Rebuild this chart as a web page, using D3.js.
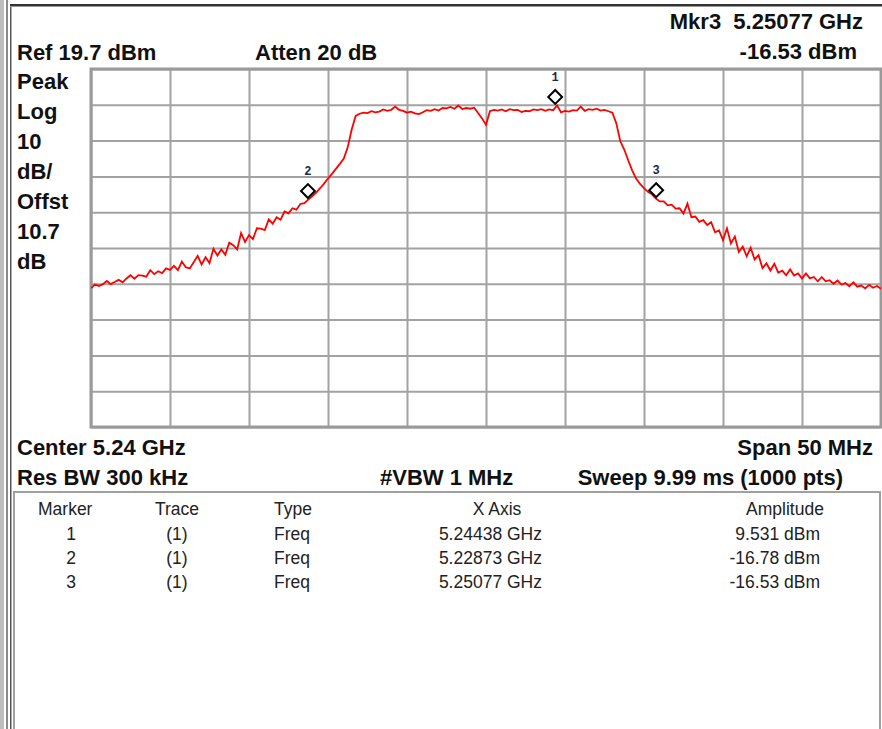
<!DOCTYPE html>
<html>
<head>
<meta charset="utf-8">
<script src="https://cdn.jsdelivr.net/npm/d3@7"></script>
<style>
  html, body { margin: 0; padding: 0; background: #fff; }
  #chart { width: 882px; height: 729px; }
</style>
</head>
<body>
<div id="chart"></div>
<script>
// analyser settings
const centerGHz = 5.24;
const spanMHz = 50;
const refLevelDbm = 19.7;
const dbPerDiv = 10;
const traceStepMHz = 0.25;

// trace amplitude (dBm) every 0.25 MHz from 5.215 to 5.265 GHz
const traceDbm = [
  -41.5, -40.5, -40.9, -40.4, -39.5, -40.4, -39.8, -39.2, -39.9, -38.8,
  -37.9, -38.9, -37.9, -38.0, -38.3, -36.5, -37.6, -36.8, -37.3, -36.0,
  -36.4, -35.3, -36.5, -34.1, -35.7, -36.0, -34.3, -32.5, -34.9, -32.9,
  -34.5, -30.5, -32.4, -30.7, -32.2, -28.8, -29.5, -30.7, -26.1, -28.6,
  -26.7, -27.8, -24.8, -24.9, -25.3, -22.3, -23.5, -21.7, -22.4, -20.1,
  -20.6, -19.2, -19.6, -18.0, -17.8, -16.8, -15.9, -14.8, -13.6, -12.3,
  -10.9, -9.6, -8.2, -6.8, -5.3, -2.1, 2.8, 6.6, 7.2, 7.5,
  7.4, 7.9, 7.6, 7.8, 8.4, 8.0, 8.3, 9.2, 8.3, 8.0,
  7.5, 7.8, 7.3, 7.1, 7.6, 8.2, 8.0, 8.5, 8.1, 8.8,
  8.7, 9.1, 8.6, 9.5, 8.5, 8.8, 8.6, 8.9, 7.4, 5.9,
  4.1, 7.9, 8.3, 8.1, 8.4, 7.9, 8.5, 8.2, 8.3, 7.7,
  8.0, 7.9, 8.4, 8.2, 8.5, 8.0, 8.4, 8.2, 9.5, 7.6,
  8.0, 7.8, 8.2, 8.1, 9.2, 8.0, 8.5, 8.3, 8.6, 8.1,
  8.3, 7.9, 7.5, 4.5, -0.5, -2.8, -5.8, -8.6, -10.9, -12.4,
  -13.6, -14.6, -15.3, -16.5, -17.3, -17.3, -18.4, -18.2, -19.3, -19.2,
  -20.7, -17.9, -21.7, -21.5, -23.0, -22.5, -23.9, -23.1, -25.9, -25.4,
  -28.1, -24.8, -29.0, -27.1, -31.4, -29.9, -32.6, -30.2, -33.5, -32.3,
  -35.9, -34.6, -36.6, -34.7, -37.2, -36.6, -37.9, -36.3, -38.0, -37.4,
  -38.8, -37.4, -38.8, -38.4, -39.6, -38.4, -39.6, -39.3, -40.3, -39.4,
  -40.5, -40.1, -41.0, -39.9, -41.1, -40.8, -41.6, -40.6, -41.4, -40.9,
  -41.7
];

// markers
const markerIds = [1, 2, 3];
const markerFreqGHz = [5.24438, 5.22873, 5.25077];
const markerAmpDbm = [9.531, -16.78, -16.53];
const activeMarker = 3;

// annotation texts
const sideLabels = ["Peak", "Log", "10", "dB/", "Offst", "10.7", "dB"];
const tableHeaders = ["Marker", "Trace", "Type", "X Axis", "Amplitude"];

function drawChart(containerSelector) {
  const container = d3.select(containerSelector);
  container.html("");

  const width = 882;
  const height = 729;
  // plot rectangle
  const plot = {left: 91, right: 881, top: 69, bottom: 427};

  const svg = container.append("svg")
      .attr("width", width)
      .attr("height", height)
      .style("display", "block");

  const textFont = "'Liberation Sans', Arial, sans-serif";

  // window frame
  svg.append("rect").attr("x", 0).attr("y", 0).attr("width", 4).attr("height", height).attr("fill", "#bdbdbd");
  svg.append("rect").attr("x", 6).attr("y", 0).attr("width", 2).attr("height", height).attr("fill", "#8a8a8a");
  svg.append("rect").attr("x", 10).attr("y", 4).attr("width", 1.5).attr("height", height).attr("fill", "#555");
  svg.append("rect").attr("x", 10).attr("y", 4).attr("width", width - 10).attr("height", 2).attr("fill", "#333");
  svg.append("rect").attr("x", 10).attr("y", 6).attr("width", width - 10).attr("height", 1).attr("fill", "#999");

  // scales
  const startGHz = centerGHz - spanMHz / 2000;
  const stopGHz = centerGHz + spanMHz / 2000;
  const x = d3.scaleLinear()
      .domain([startGHz, stopGHz])
      .range([plot.left, plot.right]);
  const y = d3.scaleLinear()
      .domain([refLevelDbm - 10 * dbPerDiv, refLevelDbm])
      .range([plot.bottom, plot.top]);

  // grid from axes (10 x 10 divisions)
  const xTicks = d3.range(11).map(i => startGHz + i * spanMHz / 10000);
  const yTicks = d3.range(11).map(i => refLevelDbm - i * dbPerDiv);

  const gx = svg.append("g")
      .attr("transform", `translate(0,${plot.bottom})`)
      .call(d3.axisBottom(x).tickValues(xTicks).tickSize(-(plot.bottom - plot.top)).tickFormat(""));
  const gy = svg.append("g")
      .attr("transform", `translate(${plot.left},0)`)
      .call(d3.axisLeft(y).tickValues(yTicks).tickSize(-(plot.right - plot.left)).tickFormat(""));
  [gx, gy].forEach(g => {
    g.select(".domain").remove();
    g.selectAll(".tick line").attr("stroke", "#a2a2a2").attr("stroke-width", 2);
  });

  svg.append("rect")
      .attr("x", plot.left)
      .attr("y", plot.top)
      .attr("width", plot.right - plot.left)
      .attr("height", plot.bottom - plot.top)
      .attr("fill", "none")
      .attr("stroke", "#9a9a9a")
      .attr("stroke-width", 3);

  // trace
  svg.append("clipPath").attr("id", "plot-clip")
    .append("rect")
      .attr("x", plot.left).attr("y", plot.top)
      .attr("width", plot.right - plot.left).attr("height", plot.bottom - plot.top);

  const line = d3.line()
      .x((d, i) => x(startGHz + i * traceStepMHz / 1000))
      .y(d => y(d));

  svg.append("path")
      .datum(traceDbm)
      .attr("clip-path", "url(#plot-clip)")
      .attr("d", line)
      .attr("fill", "none")
      .attr("stroke", "#ff0000")
      .attr("stroke-width", 1.8)
      .attr("stroke-linejoin", "miter");

  // marker diamonds sit just above the trace point
  const markers = markerIds.map((id, i) => ({id: id, f: markerFreqGHz[i], a: markerAmpDbm[i]}));
  const mk = svg.append("g").selectAll("g")
      .data(markers)
      .join("g")
      .attr("transform", d => `translate(${x(d.f)},${y(d.a) - 8.5})`);
  mk.append("path")
      .attr("d", d3.symbol(d3.symbolSquare, 96))
      .attr("transform", "rotate(45)")
      .attr("fill", "#fff")
      .attr("stroke", "#000")
      .attr("stroke-width", 2);
  mk.append("text")
      .attr("y", -16)
      .attr("text-anchor", "middle")
      .style("font-family", "'Liberation Mono', 'DejaVu Sans Mono', monospace")
      .style("font-size", "12px")
      .style("font-weight", "bold")
      .style("fill", "#1c2a4a")
      .text(d => d.id);

  // header / footer text
  function label(txt, px, py, anchor) {
    svg.append("text")
        .attr("x", px)
        .attr("y", py)
        .attr("text-anchor", anchor || "start")
        .style("white-space", "pre")
        .style("font-family", textFont)
        .style("font-weight", "bold")
        .style("font-size", "22px")
        .style("fill", "#111")
        .text(txt);
  }
  const am = markers.find(d => d.id === activeMarker);
  label(`Mkr${am.id}  ${am.f.toFixed(5)} GHz`, 863, 29, "end");
  label(`${am.a.toPrecision(4)} dBm`, 857, 59, "end");
  label(`Ref ${refLevelDbm} dBm`, 17, 60);
  label("Atten 20 dB", 255, 60);
  sideLabels.forEach((s, i) => label(s, 17, 89 + i * 30));
  label(`Center ${centerGHz} GHz`, 17, 455);
  label(`Span ${spanMHz} MHz`, 873, 455, "end");
  label("Res BW 300 kHz", 17, 485);
  label("#VBW 1 MHz", 380, 485);
  label("Sweep 9.99 ms (1000 pts)", 843, 485, "end");

  // marker table
  svg.append("rect")
      .attr("x", 14)
      .attr("y", 492)
      .attr("width", 866)
      .attr("height", 260)
      .attr("fill", "none")
      .attr("stroke", "#a0a0a0")
      .attr("stroke-width", 2);

  function cell(txt, px, py, anchor) {
    svg.append("text")
        .attr("x", px)
        .attr("y", py)
        .attr("text-anchor", anchor)
        .style("font-family", textFont)
        .style("font-size", "17.5px")
        .style("fill", "#222")
        .text(txt);
  }
  const headX = [[38, "start"], [177, "middle"], [274, "start"], [497, "middle"], [785, "middle"]];
  tableHeaders.forEach((h, i) => cell(h, headX[i][0], 515, headX[i][1]));
  markers.forEach((d, i) => {
    const ry = 540 + i * 24;
    cell(d.id, 71, ry, "middle");
    cell("(1)", 177, ry, "middle");
    cell("Freq", 274, ry, "start");
    cell(`${d.f.toFixed(5)} GHz`, 542, ry, "end");
    cell(`${d.a.toPrecision(4)} dBm`, 820, ry, "end");
  });
}

drawChart("#chart");
</script>
</body>
</html>
